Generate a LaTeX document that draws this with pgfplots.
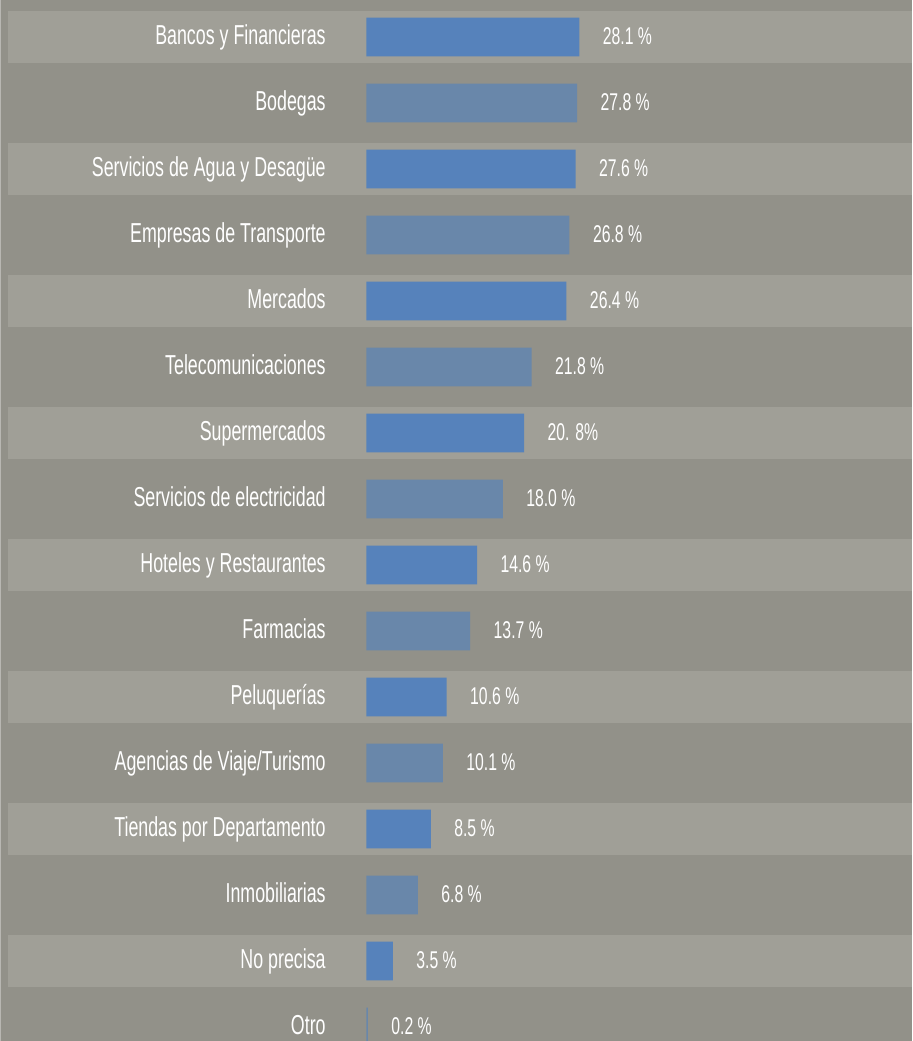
\documentclass[border=0pt]{standalone}
\usepackage{pgfplots}
\pgfplotsset{compat=1.18}
\usepackage{fontspec}
\setmainfont{Liberation Sans}[FakeStretch=0.65]

\definecolor{bgcol}{HTML}{929189}
\definecolor{stripecol}{HTML}{A09F97}
\definecolor{barblue}{HTML}{5682BB}
\definecolor{bargray}{HTML}{6987AA}

\begin{document}
\begin{tikzpicture}
\begin{axis}[
  scale only axis,
  width=91.2mm, height=104.1mm,
  xmin=-48.28, xmax=72.03,
  ymin=-0.5606, ymax=15.212,
  y dir=reverse,
  xbar, bar width=0.59,
  hide x axis,
  axis on top,
  axis line style={draw=none},
  major tick length=0pt,
  ytick={0,...,15},
  yticklabels={Bancos y Financieras, Bodegas, Servicios de Agua y Desagüe,
    Empresas de Transporte, Mercados, Telecomunicaciones, Supermercados,
    Servicios de electricidad, Hoteles y Restaurantes, Farmacias,
    Peluquerías, Agencias de Viaje/Turismo, Tiendas por Departamento,
    Inmobiliarias, No precisa, Otro},
  yticklabel style={anchor=base east, inner sep=0pt, xshift=32.6mm, yshift=-2.2pt,
    text=white, font=\fontsize{7.8}{9}\selectfont},
  nodes near coords,
  point meta=explicit symbolic,
  every node near coord/.append style={anchor=base west, inner sep=0pt,
    xshift=6.5pt, yshift=-2.2pt, text=white, font=\fontsize{6.9}{8}\selectfont},
]
% background and light stripes
\fill[bgcol] (rel axis cs:0,0) rectangle (rel axis cs:1,1);
\pgfplotsinvokeforeach{0,2,...,14}{
  \fill[stripecol] (axis cs:-47.23,#1-0.4) rectangle (axis cs:72.03,#1+0.4);
}

\addplot[fill=barblue, draw=none, bar shift=0pt] coordinates {
  (28.1,0)  [28.1 \%]
  (27.6,2)  [27.6 \%]
  (26.4,4)  [26.4 \%]
  (20.8,6)  [20. 8\%]
  (14.6,8)  [14.6 \%]
  (10.6,10) [10.6 \%]
  (8.5,12)  [8.5 \%]
  (3.5,14)  [3.5 \%]
};

\addplot[fill=bargray, draw=none, bar shift=0pt] coordinates {
  (27.8,1)  [27.8 \%]
  (26.8,3)  [26.8 \%]
  (21.8,5)  [21.8 \%]
  (18.0,7)  [18.0 \%]
  (13.7,9)  [13.7 \%]
  (10.1,11) [10.1 \%]
  (6.8,13)  [6.8 \%]
  (0.2,15)  [0.2 \%]
};
\end{axis}
\end{tikzpicture}
\end{document}
